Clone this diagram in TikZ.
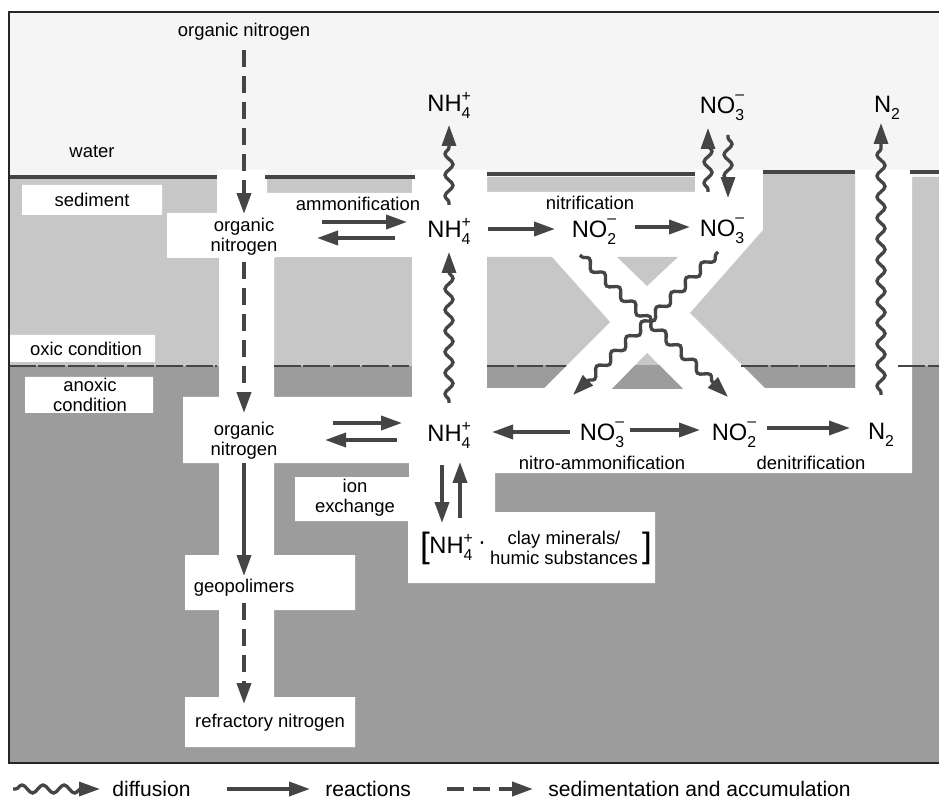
\documentclass[tikz,border=0pt]{standalone}
\usepackage{fontspec}
\setmainfont{Liberation Sans}
\usetikzlibrary{arrows.meta,decorations.pathmorphing,calc}

\definecolor{water}{gray}{0.96}
\definecolor{oxic}{gray}{0.78}
\definecolor{anoxic}{gray}{0.61}
\definecolor{ink}{gray}{0.27}

% ions with stacked charge and index
\newcommand{\subsz}{\fontsize{9}{9}\selectfont}
\newcommand{\cation}[2]{#1\rlap{\raisebox{0.8ex}{\subsz +}}\raisebox{-0.55ex}{\subsz #2}}
\newcommand{\anion}[2]{#1\rlap{\raisebox{1.1ex}{\subsz\textendash}}\raisebox{-0.55ex}{\subsz #2}}
\newcommand{\gas}[2]{#1\raisebox{-0.55ex}{\subsz #2}}

\tikzset{
  lbl/.style={font=\fontsize{10.5}{11.5}\selectfont, align=center, inner sep=1pt},
  chem/.style={font=\fontsize{13.5}{14}\selectfont, inner sep=0pt},
  key/.style={font=\fontsize{12}{14}\selectfont, anchor=west, inner sep=0pt},
  brk/.style={font=\fontsize{20}{20}\selectfont, inner sep=0pt},
  tip/.style={-{Triangle[length=4.2mm,width=2.8mm]}},
  react/.style={draw=ink, line width=2.1pt, tip},
  diffuse/.style={draw=ink, line width=1.9pt, tip, decorate,
    decoration={snake, amplitude=0.8mm, segment length=4.2mm, pre length=0.5mm, post length=3mm}},
  settle/.style={draw=ink, line width=2.2pt, tip, dash pattern=on 3.4mm off 1.8mm},
  shore/.style={draw=ink, line width=1.8pt},
  redox/.style={draw=ink, line width=1.6pt, dash pattern=on 5.4mm off 0.5mm},
}

\begin{document}
\begin{tikzpicture}[x=0.02cm, y=-0.02cm]
\useasboundingbox (0,0) rectangle (939,803);

% water, oxic and anoxic layers
\fill[water] (9,12) rectangle (939,763);
\fill[oxic] (9,177) rectangle (939,763);
\fill[anoxic] (9,366) rectangle (939,763);

% white channels cut through the sediment
\fill[white] (217,170) rectangle (267,213)
  (167,213) rectangle (275,258)
  (265,193) rectangle (487,257)
  (219,258) rectangle (274,700)
  (412,170) rectangle (487,475)
  (409,463) rectangle (495,512)
  (183,397) rectangle (487,463)
  (295,477) rectangle (409,521)
  (408,512) rectangle (655,583)
  (185,555) rectangle (355,610)
  (185,697) rectangle (355,747)
  (487,192) rectangle (855,473)
  (695,170) rectangle (763,193)
  (855,170) rectangle (912,473);
\fill[white] (22,185) rectangle (162,215)
  (10,335) rectangle (155,362)
  (25,377) rectangle (153,413);

% blocks left between the crossing channels
\foreach \tone/\cut in {oxic/0, anoxic/366}{
  \begin{scope}
    \clip (0,\cut) rectangle (939,803);
    \fill[\tone] (487,257) -- (552,257) -- (610,322) -- (544,388) -- (487,388) -- cycle;
    \fill[\tone] (617,257) -- (678,257) -- (647,286) -- cycle;
    \fill[\tone] (647,353) -- (683,389) -- (612,389) -- cycle;
    \fill[\tone] (763,172) -- (855,172) -- (855,388) -- (765,388) -- (690,313) -- (763,230) -- cycle;
  \end{scope}
}

% sediment surface and redox boundary
\draw[shore] (9,177) -- (217,177) (265,177) -- (415,177) (487,174) -- (695,174)
  (763,172) -- (855,172) (910,172) -- (939,172);
\draw[redox] (9,366) -- (217,366) (274,366) -- (409,366) (487,366) -- (566,366)
  (741,366) -- (855,366) (898,366) -- (939,366);

\draw[line width=1.2pt, black!85] (939,12) -- (9,12) -- (9,763) -- (939,763);

% labels
\node[lbl] (water) at (92,152) {water};
\node[lbl] (sed) at (92,200) {sediment};
\node[lbl] (oxc) at (86,349) {oxic condition};
\node[lbl] (anoxc) at (90,395) {anoxic\\condition};
\node[lbl] (amm) at (358,204) {ammonification};
\node[lbl] (nitr) at (590,203) {nitrification};
\node[lbl] (ionex) at (355,498) {ion\\exchange};
\node[lbl] (nitam) at (602,463) {nitro-ammonification};
\node[lbl] (denitr) at (811,463) {denitrification};

% organic nitrogen column
\node[lbl] (onTop) at (244,32) {organic nitrogen};
\node[lbl] (onUp) at (244,237) {organic\\nitrogen};
\node[lbl] (onLow) at (244,441) {organic\\nitrogen};
\node[lbl] (geo) at (244,588) {geopolimers};
\node[lbl] (refr) at (270,723) {refractory nitrogen};

% inorganic species
\node[chem] (nhTop) at (449,105) {\cation{NH}{4}};
\node[chem] (nhMid) at (449,231) {\cation{NH}{4}};
\node[chem] (nhLow) at (449,435) {\cation{NH}{4}};
\node[chem] (no2Mid) at (594,232) {\anion{NO}{2}};
\node[chem] (no3Mid) at (722,231) {\anion{NO}{3}};
\node[chem] (no3Top) at (722,108) {\anion{NO}{3}};
\node[chem] (n2Top) at (887,108) {\gas{N}{2}};
\node[chem] (no3Low) at (602,435) {\anion{NO}{3}};
\node[chem] (no2Low) at (734,435) {\anion{NO}{2}};
\node[chem] (n2Low) at (881,435) {\gas{N}{2}};

% adsorbed ammonium
\node[brk] (lbr) at (425,548) {[};
\node[chem] (nhClay) at (451,547) {\cation{NH}{4}};
\node[chem] (bond) at (482,546) {·};
\node[lbl] (clay) at (564,548) {clay minerals/\\humic substances};
\node[brk] (rbr) at (647,548) {]};

% sedimentation
\draw[settle] ($(onTop)+(0,18)$) -- ($(onUp)+(0,-23)$);
\draw[settle] ($(onUp)+(0,25)$) -- ($(onLow)+(0,-28)$);
\draw[react] ($(onLow)+(0,22)$) -- ($(geo)+(0,-12)$);
\draw[settle] ($(geo)+(0,15)$) -- ($(refr)+(-26,-19)$);

% ammonification
\draw[react] ($(onUp)+(78,-15)$) -- ($(nhMid)+(-42,-9)$);
\draw[react] ($(nhMid)+(-54,7)$) -- ($(onUp)+(73,1)$);
\draw[react] ($(onLow)+(89,-18)$) -- ($(nhLow)+(-47,-12)$);
\draw[react] ($(nhLow)+(-52,5)$) -- ($(onLow)+(81,-1)$);

% ammonium diffusion
\draw[diffuse] ($(nhMid)+(0,-26)$) -- ($(nhTop)+(0,20)$);
\draw[diffuse] ($(nhLow)+(0,-32)$) -- ($(nhMid)+(0,21)$);

% nitrification
\draw[react] ($(nhMid)+(39,-2)$) -- ($(no2Mid)+(-39,-3)$);
\draw[react] ($(no2Mid)+(41,-5)$) -- ($(no3Mid)+(-32,-4)$);

% nitrate exchange and crossing
\draw[diffuse] ($(no3Mid)+(-14,-39)$) -- ($(no3Top)+(-14,20)$);
\draw[diffuse] ($(no3Top)+(6,27)$) -- ($(no3Mid)+(6,-33)$);
\draw[diffuse] ($(no2Mid)+(-14,23)$) -- ($(no2Low)+(-6,-38)$);
\draw[diffuse] ($(no3Mid)+(-4,21)$) -- ($(no3Low)+(-29,-40)$);
\draw[diffuse] ($(n2Low)+(0,-40)$) -- ($(n2Top)+(-6,15)$);

% anoxic reactions
\draw[react] ($(no3Low)+(-32,-3)$) -- ($(nhLow)+(43,-3)$);
\draw[react] ($(no3Low)+(28,-5)$) -- ($(no2Low)+(-34,-5)$);
\draw[react] ($(no2Low)+(33,-7)$) -- ($(n2Low)+(-31,-7)$);

% ion exchange
\draw[react] ($(nhLow)+(-7,30)$) -- ($(nhClay)+(-9,-24)$);
\draw[react] ($(nhClay)+(9,-29)$) -- ($(nhLow)+(11,27)$);

% legend
\coordinate (kDiff) at (13,789);
\coordinate (kReact) at (227,789);
\coordinate (kSettle) at (447,789);
\node[key] (lgDiff) at (112,789) {diffusion};
\node[key] (lgReact) at (325,789) {reactions};
\node[key] (lgSettle) at (548,789) {sedimentation and accumulation};
\draw[diffuse] (kDiff) -- ($(lgDiff.west)+(-12,0)$);
\draw[react] (kReact) -- ($(lgReact.west)+(-15,0)$);
\draw[settle] (kSettle) -- ($(lgSettle.west)+(-15,0)$);
\end{tikzpicture}
\end{document}
